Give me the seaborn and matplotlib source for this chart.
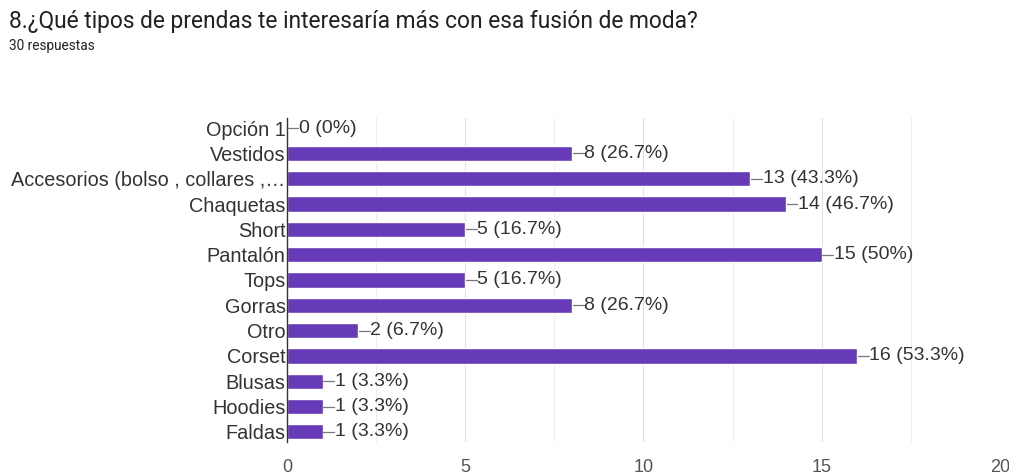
import matplotlib
matplotlib.use("Agg")
import matplotlib.pyplot as plt
import seaborn as sns
import pandas as pd
import numpy as np

categories = ["Opción 1", "Vestidos", "Accesorios (bolso , collares ,…", "Chaquetas", "Short",
              "Pantalón", "Tops", "Gorras", "Otro", "Corset", "Blusas", "Hoodies", "Faldas"]
counts = [0, 8, 13, 14, 5, 15, 5, 8, 2, 16, 1, 1, 1]
labels = ["0 (0%)", "8 (26.7%)", "13 (43.3%)", "14 (46.7%)", "5 (16.7%)", "15 (50%)",
          "5 (16.7%)", "8 (26.7%)", "2 (6.7%)", "16 (53.3%)", "1 (3.3%)", "1 (3.3%)", "1 (3.3%)"]
xticks = [0, 5, 10, 15, 20]

sns.set_theme(style="white")
plt.rcParams['font.family'] = ['Liberation Sans', 'DejaVu Sans']

df = pd.DataFrame({"cat": categories, "n": counts})

fig = plt.figure(figsize=(10.09, 4.75), dpi=100)
ax = fig.add_axes([0.2844, 0.0695, 0.7066, 0.6821])

for g in np.arange(2.5, 20.01, 2.5):
    ax.axvline(g, color="#ededed" if g % 5 else "#e0e0e0", lw=0.8, zorder=0)

sns.barplot(data=df, x="n", y="cat", orient="h", color="#673ab7", saturation=1,
            width=0.6, ax=ax, zorder=2)

for i, (v, lab) in enumerate(zip(counts, labels)):
    ax.plot([v + 0.02, v + 0.32], [i, i], color="#777777", lw=0.9, zorder=3)
    ax.text(v + 0.34, i, lab, va="center", ha="left", fontsize=14, color="#333333")

ax.set_xlim(0, 20)
ax.set_ylim(12.4, -0.4)
ax.set_xticks(xticks)
ax.set_xticklabels([str(t) for t in xticks], fontsize=13, color="#555555")
ax.tick_params(axis="x", length=0, pad=12)
ax.tick_params(axis="y", length=0, pad=1, labelsize=14.3, labelcolor="#333333")
ax.set_xlabel("")
ax.set_ylabel("")
for s in ["top", "right", "bottom"]:
    ax.spines[s].set_visible(False)
ax.spines["left"].set_color("#333333")
ax.spines["left"].set_linewidth(1.0)

fig.text(0.0089, 0.955, "8.¿Qué tipos de prendas te interesaría más con esa fusión de moda?",
         fontsize=16.4, family=["Roboto", "DejaVu Sans"], color="#202124", va="center")
fig.text(0.0089, 0.903, "30 respuestas", fontsize=9.8, family=["Roboto", "DejaVu Sans"],
         color="#202124", va="center")

fig.savefig("out.png", dpi=100)
